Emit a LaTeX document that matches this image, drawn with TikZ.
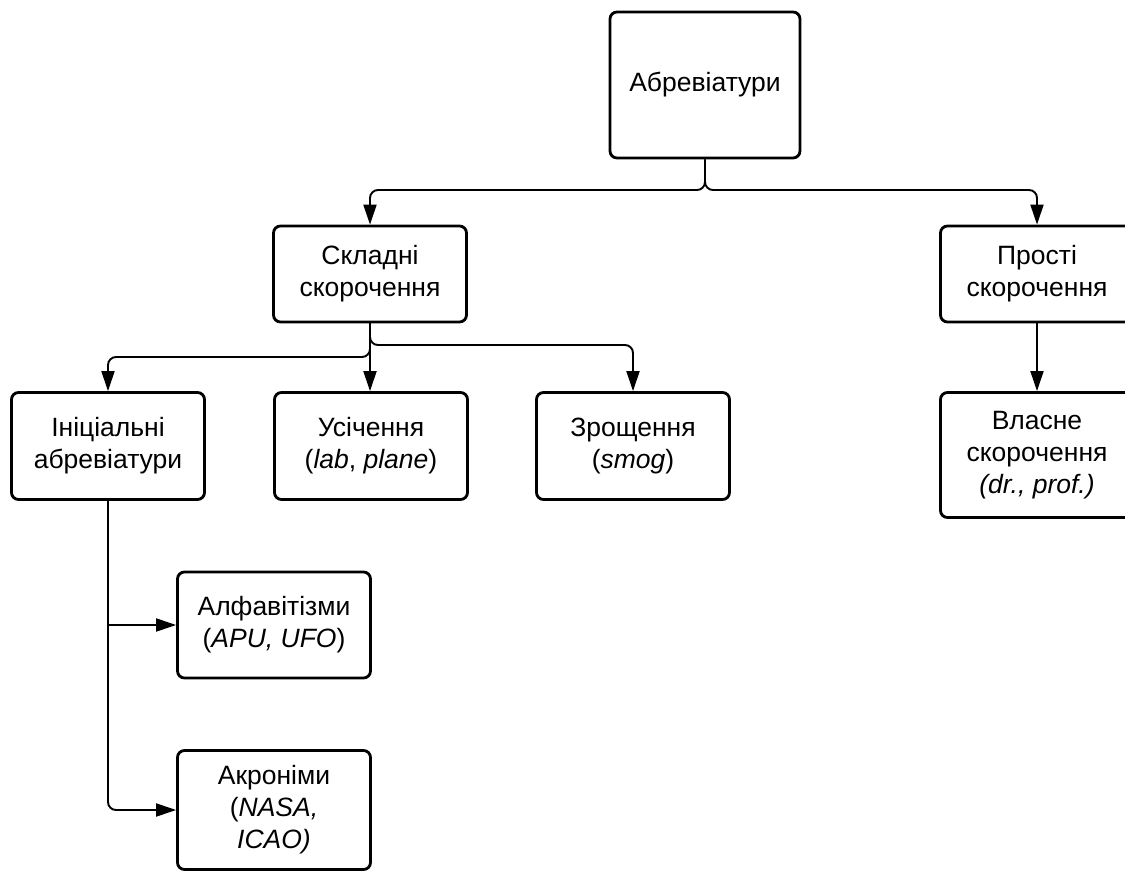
\documentclass[tikz,border=0pt]{standalone}
\usepackage{fontspec}
\setmainfont{Liberation Sans}
\usetikzlibrary{arrows.meta}
\begin{document}
\begin{tikzpicture}[x=1pt,y=-1pt,
  box/.style={draw=black, line width=2.8pt, rounded corners=7pt, fill=white,
    align=center, inner sep=0pt, font=\fontsize{26.5}{32}\selectfont,
    minimum width=#1},
  box/.default=193pt,
  conn/.style={draw=black, line width=1.9pt, rounded corners=8pt,
    -{Triangle[length=20pt,width=13pt]}},
  plain/.style={draw=black, line width=1.9pt, rounded corners=8pt}]
\clip (0,0) rectangle (1125,872);
\fill[white] (0,0) rectangle (1125,872);
% nodes
\node[box=190pt, minimum height=146pt] (top) at (705,85) {Абревіатури};
\node[box, minimum height=96pt] (skl) at (370,274) {Складні\\скорочення};
\node[box, minimum height=96pt] (pro) at (1037,274) {Прості\\скорочення};
\node[box, minimum height=107pt] (ini) at (108,446) {Ініціальні\\абревіатури};
\node[box, minimum height=107pt] (usi) at (371,446) {Усічення\\(\textit{lab}, \textit{plane})};
\node[box, minimum height=107pt] (zro) at (633,446) {Зрощення\\(\textit{smog})};
\node[box, minimum height=125pt] (vla) at (1037,455) {Власне\\скорочення\\\textit{(dr., prof.)}};
\node[box, minimum height=106pt] (alf) at (274,625) {Алфавітізми\\(\textit{APU, UFO})};
\node[box, minimum height=119pt] (akr) at (274,810) {Акроніми\\(\textit{NASA,}\\\textit{ICAO)}};
% connectors
\draw[conn] (top.south) -- (705,190) -- (skl.north |- 0,190) -- (skl.north);
\draw[conn] (top.south) -- (705,190) -- (pro.north |- 0,190) -- (pro.north);
\draw[conn] (skl.south) -- (usi.north -| skl.south);
\draw[conn] (skl.south) -- (370,345) -- (zro.north |- 0,345) -- (zro.north);
\draw[conn] (skl.south) -- (370,357) -- (ini.north |- 0,357) -- (ini.north);
\draw[conn] (pro.south) -- (vla.north);
\coordinate (br) at (ini.south |- alf.west);
\draw[plain] (ini.south) -- (br);
\draw[conn] (br) -- (alf.west);
\draw[conn] (ini.south) -- (ini.south |- akr.west) -- (akr.west);
\end{tikzpicture}
\end{document}
